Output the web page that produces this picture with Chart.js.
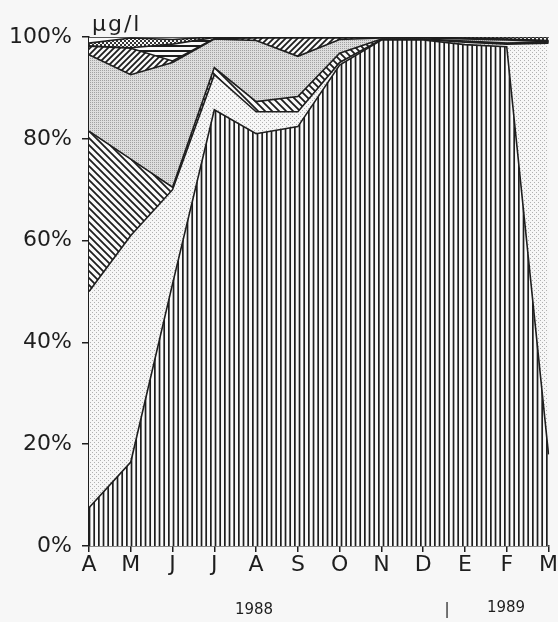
<!DOCTYPE html>
<html>
<head>
<meta charset="utf-8">
<script src="https://cdn.jsdelivr.net/npm/chart.js@4.4.1/dist/chart.umd.min.js"></script>
<style>
  html, body { margin: 0; padding: 0; background: #f7f7f7; }
  canvas { display: block; }
</style>
</head>
<body>
<canvas id="shareChart" width="558" height="622"></canvas>
<script>
// months April 1988 .. March 1989
const months = ['A', 'M', 'J', 'J', 'A', 'S', 'O', 'N', 'D', 'E', 'F', 'M'];
const yTicks = [0, 20, 40, 60, 80, 100];

// share of each component (%), bottom to top
const verticalShare = [7.5, 16.5, 51.5, 85.7, 81, 82.4, 94.5, 99.4, 99.4, 98.5, 98.1, 18];
const lightDotShare = [42.5, 44.5, 18.5, 6.9, 4.3, 2.9, 0.5, 0.1, 0.1, 0.5, 0.5, 80.8];
const backHatchShare = [31.5, 15, 0.5, 1.4, 2, 3, 1.8, 0.1, 0.1, 0.2, 0.2, 0.2];
const greyShare = [15, 16.6, 24.5, 5.6, 12, 7.9, 2.7, 0.2, 0.2, 0.4, 0.6, 0.1];
const fwdHatchShare = [1.7, 5.2, 0.3, 0.1, 0.5, 3.6, 0.3, 0.1, 0.1, 0.1, 0.1, 0.1];
const horizShare = [0, 0.1, 3.3, 0.2, 0.1, 0.1, 0.1, 0.05, 0.05, 0.1, 0.1, 0.1];
const crossShare = [0.6, 1.9, 0.9, 0.1, 0.1, 0.1, 0.1, 0.05, 0.05, 0.2, 0.4, 0.7];
const whiteShare = [1.2, 0.2, 0.5, 0, 0, 0, 0, 0, 0, 0, 0, 0];

const canvas = document.getElementById('shareChart');
const ctx = canvas.getContext('2d');

// small tile -> repeating pattern
function makePattern(w, h, bg, draw) {
    const c = document.createElement('canvas');
    c.width = w; c.height = h;
    const g = c.getContext('2d');
    g.fillStyle = bg;
    g.fillRect(0, 0, w, h);
    draw(g, w, h);
    return ctx.createPattern(c, 'repeat');
}

const ink = '#1e1e1e';

const verticalFill = makePattern(14, 4, '#fafafa', g => {
    g.fillStyle = ink;
    g.fillRect(0, 0, 1.7, 4);
    g.fillRect(4.67, 0, 1.7, 4);
    g.fillRect(9.33, 0, 1.7, 4);
});
const lightDotFill = makePattern(4, 4, '#f6f6f6', g => {
    g.fillStyle = '#b0b0b0';
    g.fillRect(0, 0, 1, 1);
    g.fillRect(2, 2, 1, 1);
});
const backHatchFill = makePattern(7, 7, '#fafafa', g => {
    g.strokeStyle = ink; g.lineWidth = 1.8;
    g.beginPath();
    g.moveTo(-1, -1); g.lineTo(8, 8);
    g.moveTo(-8, -1); g.lineTo(1, 8);
    g.moveTo(6, -1); g.lineTo(15, 8);
    g.stroke();
});
const greyFill = makePattern(2, 2, '#dedede', g => {
    g.fillStyle = '#a2a2a2';
    g.fillRect(0, 0, 1, 1);
});
const fwdHatchFill = makePattern(6, 6, '#fafafa', g => {
    g.strokeStyle = ink; g.lineWidth = 1.8;
    g.beginPath();
    g.moveTo(-1, 7); g.lineTo(7, -1);
    g.moveTo(-7, 7); g.lineTo(1, -1);
    g.moveTo(5, 7); g.lineTo(13, -1);
    g.stroke();
});
const horizFill = makePattern(4, 5, '#fafafa', g => {
    g.fillStyle = ink;
    g.fillRect(0, 0, 4, 2);
});
const crossFill = makePattern(4, 4, '#fafafa', g => {
    g.fillStyle = '#333';
    g.fillRect(0, 0, 2, 2);
    g.fillRect(2, 2, 2, 2);
});

function layer(data, fill, first) {
    return {
        data: data,
        backgroundColor: fill,
        borderColor: ink,
        borderWidth: 1.6,
        pointRadius: 0,
        tension: 0,
        fill: first ? 'origin' : '-1'
    };
}

// year labels and unit under / above the axes
const extraText = {
    id: 'extraText',
    afterDraw(chart) {
        const c = chart.ctx;
        c.save();
        c.fillStyle = ink;
        c.textBaseline = 'alphabetic';
        c.font = '22px "DejaVu Sans"';
        c.textAlign = 'left';
        c.letterSpacing = '2px';
        c.fillText('µg/l', 92, 31);
        c.letterSpacing = '0px';
        c.font = '15px "DejaVu Sans"';
        c.textAlign = 'center';
        c.fillText('1988', 254, 614);
        c.fillText('|', 447, 614);
        c.fillText('1989', 506, 612);
        c.restore();
    }
};

new Chart(ctx, {
    type: 'line',
    data: {
        labels: months,
        datasets: [
            layer(verticalShare, verticalFill, true),
            layer(lightDotShare, lightDotFill),
            layer(backHatchShare, backHatchFill),
            layer(greyShare, greyFill),
            layer(fwdHatchShare, fwdHatchFill),
            layer(horizShare, horizFill),
            layer(crossShare, crossFill),
            layer(whiteShare, '#fafafa')
        ]
    },
    options: {
        responsive: false,
        animation: false,
        devicePixelRatio: 1,
        layout: { padding: { left: 0, right: 8, top: 37, bottom: 0 } },
        plugins: { legend: { display: false }, tooltip: { enabled: false } },
        scales: {
            x: {
                offset: false,
                grid: { drawOnChartArea: false, color: ink, tickLength: 6, lineWidth: 1.5 },
                border: { color: ink, width: 1.5 },
                ticks: { color: ink, font: { family: 'DejaVu Sans', size: 22 }, padding: 0, maxRotation: 0, autoSkip: false },
                afterFit: s => { s.height = 76; }
            },
            y: {
                stacked: true,
                min: 0,
                max: 100,
                afterBuildTicks: s => { s.ticks = yTicks.map(v => ({ value: v })); },
                grid: { drawOnChartArea: false, color: ink, tickLength: 7, lineWidth: 1.5 },
                border: { color: ink, width: 1.5 },
                ticks: { color: ink, font: { family: 'DejaVu Sans', size: 22 }, padding: 10, callback: v => v + '%' },
                afterFit: s => { s.width = 89; }
            }
        }
    },
    plugins: [extraText]
});
</script>
</body>
</html>
